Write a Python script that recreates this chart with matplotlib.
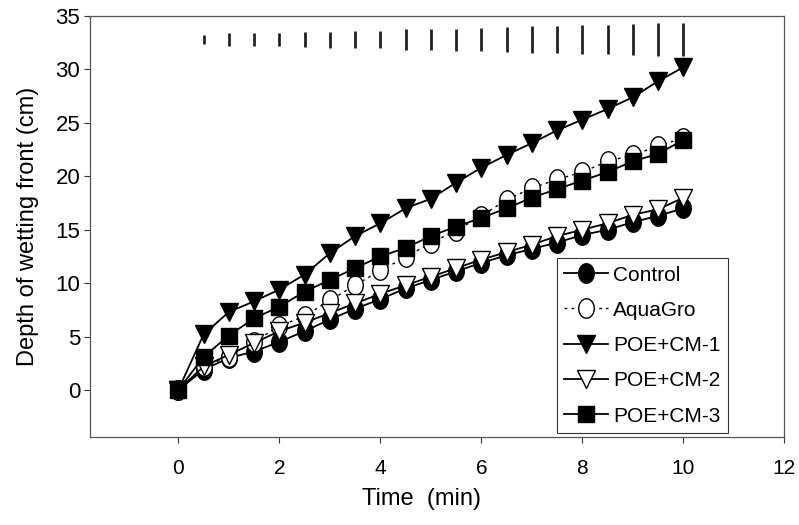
import matplotlib
matplotlib.use("Agg")
import matplotlib.pyplot as plt
from matplotlib.path import Path
import numpy as np

plt.rcParams['font.family'] = ['Liberation Sans', 'DejaVu Sans']

# Sampling times (min)
time_min = [0, 0.5, 1, 1.5, 2, 2.5, 3, 3.5, 4, 4.5, 5,
            5.5, 6, 6.5, 7, 7.5, 8, 8.5, 9, 9.5, 10]

# Depth of wetting front (cm) per treatment
control = [0, 1.9, 3.0, 3.6, 4.5, 5.5, 6.6, 7.6, 8.5, 9.5, 10.3,
           11.1, 11.9, 12.6, 13.2, 13.8, 14.5, 15.0, 15.7, 16.3, 17.0]
aquagro = [0, 2.2, 3.1, 4.5, 6.0, 6.9, 8.4, 9.8, 11.2, 12.4, 13.8,
           14.9, 16.3, 17.8, 18.9, 19.7, 20.4, 21.4, 22.0, 22.8, 23.6]
poe_cm1 = [0, 5.2, 7.3, 8.3, 9.4, 10.8, 12.8, 14.4, 15.6, 17.0, 17.9,
           19.4, 20.8, 22.0, 23.1, 24.3, 25.3, 26.3, 27.4, 28.9, 30.2]
poe_cm2 = [0, 2.2, 3.3, 4.4, 5.5, 6.3, 7.2, 8.1, 9.0, 9.8, 10.6,
           11.4, 12.2, 12.9, 13.6, 14.4, 15.0, 15.6, 16.4, 16.9, 18.0]
poe_cm3 = [0, 3.1, 5.1, 6.7, 7.8, 9.2, 10.3, 11.4, 12.5, 13.3, 14.4,
           15.3, 16.1, 17.0, 18.0, 18.8, 19.6, 20.4, 21.4, 22.1, 23.4]

# LSD bars shown along the top for each sampling time after 0
lsd_time = time_min[1:]
lsd_value = [0.84, 1.13, 1.22, 1.13, 1.41, 1.5, 1.6, 1.6, 1.88, 1.97,
             2.06, 2.15, 2.35, 2.5, 2.5, 2.63, 2.7, 2.91, 3.0, 3.1]
lsd_center = 32.8

x_ticks = [0, 2, 4, 6, 8, 10, 12]
y_ticks = [0, 5, 10, 15, 20, 25, 30, 35]

# slightly tall oval marker
theta = np.linspace(0, 2 * np.pi, 60)
oval = Path(np.column_stack([0.8 * np.cos(theta), np.sin(theta)]), closed=True)

fig = plt.figure(figsize=(7.99, 5.25), dpi=100)
ax = fig.add_axes([0.1126, 0.1676, 0.869, 0.8019])

ax.plot(time_min, control, color='black', lw=1.3, marker=oval, ms=14,
        mfc='black', mec='black', label='Control', zorder=3)
ax.plot(time_min, aquagro, color='black', lw=1.0, ls=(0, (2, 3)), marker=oval,
        ms=14, mfc='white', mec='black', mew=1.0, label='AquaGro', zorder=4)
ax.plot(time_min, poe_cm1, color='black', lw=1.3, marker='v', ms=13,
        mfc='black', mec='black', label='POE+CM-1', zorder=5)
ax.plot(time_min, poe_cm2, color='black', lw=1.3, marker='v', ms=13,
        mfc='white', mec='black', mew=1.0, label='POE+CM-2', zorder=6)
ax.plot(time_min, poe_cm3, color='black', lw=1.3, marker='s', ms=11,
        mfc='black', mec='black', label='POE+CM-3', zorder=7)

half = np.array(lsd_value) / 2.0
ax.vlines(lsd_time, lsd_center - half, lsd_center + half, color='#222222',
          lw=2.0, zorder=2)

ax.set_xlim(-1.75, 12)
ax.set_ylim(-4.4, 35)
ax.set_xticks(x_ticks)
ax.set_yticks(y_ticks)
ax.tick_params(axis='both', direction='out', length=4, width=0.8,
               colors='#333333', labelcolor='black')
ax.tick_params(axis='y', labelsize=16, pad=3)
ax.tick_params(axis='x', labelsize=15, pad=12)
for sp in ax.spines.values():
    sp.set_color('#555555')
    sp.set_linewidth(0.9)

ax.set_xlabel('Time  (min)', fontsize=17)
ax.xaxis.set_label_coords(0.478, -0.12)
ax.set_ylabel('Depth of wetting front (cm)', fontsize=17, labelpad=12)

leg = ax.legend(loc='lower right', bbox_to_anchor=(0.919, 0.01),
                fontsize=15, frameon=True, fancybox=False,
                edgecolor='black', handlelength=2.1, handletextpad=0.25,
                labelspacing=0.78, borderpad=0.35, borderaxespad=0.0)
leg.get_frame().set_linewidth(0.8)

fig.savefig('out.png', dpi=100)
